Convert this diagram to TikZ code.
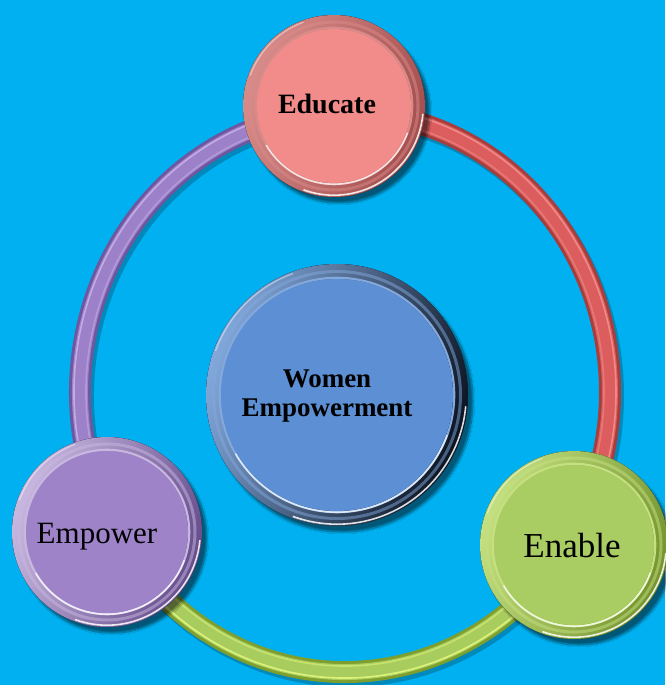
\documentclass[tikz,border=0pt]{standalone}
\usepackage{fontspec}
\setmainfont{Liberation Serif}
\usetikzlibrary{shadows.blur}
\definecolor{bg}{HTML}{00B0F0}
% ring colours
\definecolor{purD}{HTML}{6D58A0}\definecolor{purM}{HTML}{9C80C8}\definecolor{purL}{HTML}{C2ABE6}
\definecolor{redD}{HTML}{A63E3E}\definecolor{redM}{HTML}{DC5D5D}\definecolor{redL}{HTML}{EE8A88}
\definecolor{grnD}{HTML}{7E9E2E}\definecolor{grnM}{HTML}{A8CC5E}\definecolor{grnL}{HTML}{DDF27A}
% circle colours
\definecolor{eduT}{HTML}{D88C8A}\definecolor{eduM}{HTML}{C46866}\definecolor{eduB}{HTML}{A44E4E}\definecolor{eduF}{HTML}{F28C8A}
\definecolor{cenT}{HTML}{82A8DC}\definecolor{cenM}{HTML}{4C7CC0}\definecolor{cenB}{HTML}{0B1320}\definecolor{cenF}{HTML}{5C8FD3}
\definecolor{empT}{HTML}{C8B8E0}\definecolor{empM}{HTML}{8A6CB6}\definecolor{empB}{HTML}{654C8C}\definecolor{empF}{HTML}{9F83C9}
\definecolor{enaT}{HTML}{C4E080}\definecolor{enaM}{HTML}{98BA4C}\definecolor{enaB}{HTML}{74932E}\definecolor{enaF}{HTML}{A9CC63}
\tikzset{
  ringshadow/.style={black,opacity=.22,line width=22pt},
  ringedge/.style={line width=22pt},
  ringmain/.style={line width=16pt},
  ringlight/.style={line width=1.6pt},
  disc/.style={circle,inner sep=0pt,draw=none},
  labeltext/.style={inner sep=0pt,text=black},
}
\newcommand\ringseg[5]{%
  \draw[ringshadow] ([shift={(3,4)}]ringc) ++(#1:265 and 280) arc[start angle=#1,end angle=#2,x radius=265,y radius=280];
  \draw[ringedge,#3] (ringc) ++(#1:265 and 280) arc[start angle=#1,end angle=#2,x radius=265,y radius=280];
  \draw[ringmain,#4] (ringc) ++(#1:265 and 280) arc[start angle=#1,end angle=#2,x radius=265,y radius=280];
  \draw[ringlight,#5] (ringc) ++(#1:271 and 286) arc[start angle=#1,end angle=#2,x radius=271,y radius=286];
  \draw[ringlight,#5,opacity=.6] (ringc) ++(#1:259 and 274) arc[start angle=#1,end angle=#2,x radius=259,y radius=274];
}
% name, x, y, R, r, top, mid, bottom, fill
\newcommand\bezel[9]{%
  \pgfmathsetmacro\Rb{#4-1.8}\pgfmathsetmacro\ri{#5+1.2}\pgfmathsetmacro\rm{(#4+#5)/2}%
  \fill[#7,blur shadow={shadow xshift=5pt,shadow yshift=-6pt,shadow blur steps=12,shadow opacity=50}] (#2,#3) circle (#4);
  \fill[top color=#6,middle color=#7,bottom color=#8,shading angle=70] (#2,#3) circle (#4);
  \draw[#6,opacity=.5,line width=3pt] (#2,#3) circle (\rm);
  \draw[white,opacity=.85,line width=1.6pt] (#2,#3) ++(5:\Rb) arc[start angle=5,end angle=110,radius=\Rb];
  \draw[white,opacity=.45,line width=1.2pt] (#2,#3) ++(200:\Rb) arc[start angle=200,end angle=250,radius=\Rb];
  \draw[#6,line width=2.2pt] (#2,#3) circle (\ri);
  \draw[white,opacity=.75,line width=1.6pt] (#2,#3) ++(20:\ri) arc[start angle=20,end angle=150,radius=\ri];
  \node[disc,fill=#9,minimum size=2*#5] (#1) at (#2,#3) {};
}
\begin{document}
\begin{tikzpicture}[x=1pt,y=-1pt]
\fill[bg] (0,0) rectangle (665,685);
\useasboundingbox (0,0) rectangle (665,685);
\coordinate (ringc) at (345,392);
% ring segments (angles measured downward because y points down)
\ringseg{150}{271}{purD}{purM}{purL}
\ringseg{269}{393}{redD}{redM}{redL}
\ringseg{32}{152}{grnD}{grnM}{grnL}
% centre circle
\bezel{centre}{337}{395}{131}{116}{cenT}{cenM}{cenB}{cenF}
\node[labeltext,align=center,font=\bfseries\fontsize{27}{29}\selectfont] (centre-t) at (327,396.5) {Women\\Empowerment};
% satellites
\bezel{educate}{334}{106}{91}{77}{eduT}{eduM}{eduB}{eduF}
\node[labeltext,anchor=base,font=\bfseries\fontsize{28}{30}\selectfont] (educate-t) at (327,113) {Educate};
\bezel{empower}{107}{532}{95}{81}{empT}{empM}{empB}{empF}
\node[labeltext,anchor=base,font=\fontsize{31}{33}\selectfont] (empower-t) at (97,543) {Empower};
\bezel{enable}{574}{545}{94}{80}{enaT}{enaM}{enaB}{enaF}
\node[labeltext,anchor=base,font=\fontsize{35}{37}\selectfont] (enable-t) at (572,557) {Enable};
\end{tikzpicture}
\end{document}
